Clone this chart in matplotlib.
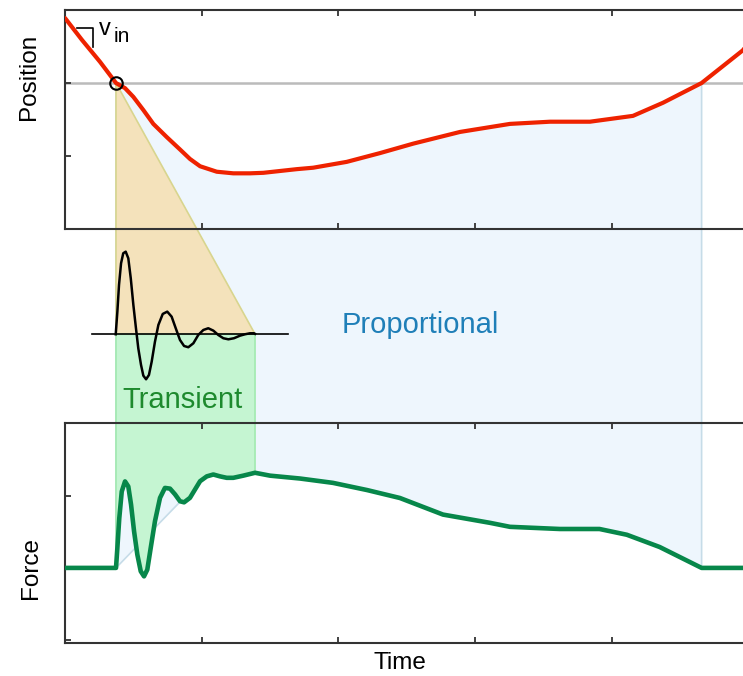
import numpy as np
import matplotlib
matplotlib.use('Agg')
import matplotlib.pyplot as plt
from matplotlib.patches import Polygon

plt.rcParams['font.family'] = 'Liberation Sans'

# Position trace (top panel), time in tick units
pos_t = [0.0, 0.124, 0.256, 0.373, 0.439, 0.500, 0.573, 0.646, 0.744, 0.841, 0.914,
         0.988, 1.110, 1.231, 1.353, 1.451, 1.695, 1.816, 2.061, 2.304, 2.548, 2.89,
         3.255, 3.548, 3.84, 4.155, 4.375, 4.657, 4.96, 5.0]
pos_v = [2.89, 2.59, 2.29, 2.0, 1.93, 1.81, 1.63, 1.44, 1.26, 1.09, 0.96,
         0.86, 0.785, 0.763, 0.763, 0.77, 0.82, 0.84, 0.92, 1.04, 1.17, 1.33,
         1.44, 1.47, 1.47, 1.55, 1.73, 2.0, 2.45, 2.56]

# Force trace (bottom panel)
force_t = [0.0, 0.373, 0.383, 0.397, 0.415, 0.439, 0.463, 0.483, 0.505, 0.529, 0.554,
           0.578, 0.602, 0.627, 0.658, 0.695, 0.731, 0.768, 0.805, 0.841, 0.871,
           0.914, 0.951, 0.988, 1.037, 1.085, 1.134, 1.183, 1.231, 1.304,
           1.39, 1.50, 1.72, 1.96, 2.21, 2.45, 2.765, 3.11, 3.255, 3.62, 3.91, 4.11,
           4.35, 4.657, 5.0]
force_v = [1.0, 1.0, 1.278, 1.69, 2.06, 2.20, 2.13, 1.88, 1.51, 1.185, 0.953,
           0.883, 0.976, 1.278, 1.647, 1.972, 2.11, 2.10, 2.02, 1.925, 1.91,
           1.972, 2.088, 2.203, 2.27, 2.296, 2.27, 2.25, 2.25, 2.28,
           2.32, 2.28, 2.24, 2.18, 2.08, 1.97, 1.74, 1.625, 1.57, 1.54, 1.54, 1.46,
           1.29, 1.0, 1.0]

# Transient sketch (middle), relative to its baseline
trans_t = [0.371, 0.383, 0.395, 0.410, 0.426, 0.444, 0.463, 0.481, 0.500, 0.519,
           0.536, 0.556, 0.573, 0.593, 0.614, 0.634, 0.658, 0.683, 0.715, 0.748,
           0.780, 0.810, 0.841, 0.871, 0.902, 0.939, 0.975, 1.012, 1.048, 1.085,
           1.121, 1.158, 1.195, 1.236, 1.280, 1.317, 1.353, 1.383, 1.390]
trans_v = [0.0, 0.274, 0.597, 0.860, 0.981, 1.0, 0.920, 0.678, 0.355, 0.073,
           -0.169, -0.371, -0.501, -0.545, -0.493, -0.332, -0.090, 0.113, 0.246, 0.274,
           0.213, 0.073, -0.069, -0.142, -0.157, -0.109, -0.008, 0.052, 0.073, 0.044,
           -0.008, -0.048, -0.061, -0.048, -0.017, 0.0, 0.012, 0.012, 0.005]
base_t = [0.195, 1.633]

t_start = 0.373     # v crosses v_in
t_trans_end = 1.39  # transient has died out
t_join = 0.988      # proportional force meets measured force
t_end = 4.657       # back to v_in

fig = plt.figure(figsize=(7.43, 6.76), dpi=100)
bg = fig.add_axes([0, 0, 1, 1], zorder=-1)
bg.set_xlim(0, 743)
bg.set_ylim(676, 0)
bg.axis('off')

ax_top = fig.add_axes([0.0875, 0.6612, 0.9199, 0.324], facecolor='none')
ax_mid = fig.add_axes([0.0875, 0.3743, 0.9199, 0.287], facecolor='none')
ax_bot = fig.add_axes([0.0875, 0.0488, 0.9199, 0.3254], facecolor='none')

ax_top.set_xlim(0, 5)
ax_top.set_ylim(0, 3)
ax_mid.set_xlim(0, 5)
ax_mid.set_ylim(-1.074, 1.275)
ax_bot.set_xlim(0, 5)
ax_bot.set_ylim(-0.042, 3.01)
ax_mid.axis('off')

for ax in (ax_top, ax_bot):
    ax.set_xticks(range(6))
    ax.tick_params(direction='in', top=True, bottom=True, left=True, right=False,
                   length=4, width=1.3, color='#333333',
                   labelbottom=False, labelleft=False)
    for s in ax.spines.values():
        s.set_linewidth(1.5)
        s.set_color('#333333')
ax_top.set_yticks([1, 2])
ax_bot.set_yticks([0, 1, 2])


def to_bg(ax, x, y):
    pts = np.column_stack([x, y])
    return bg.transData.inverted().transform(ax.transData.transform(pts))


pos_t_a = np.array(pos_t)
pos_v_a = np.array(pos_v)
force_t_a = np.array(force_t)
force_v_a = np.array(force_v)

# blue "proportional" region: from position trace down to force trace
m_top = (pos_t_a >= t_start) & (pos_t_a <= t_end)
m_bot = (force_t_a >= t_join) & (force_t_a <= t_end)
blue = np.vstack([
    to_bg(ax_top, pos_t_a[m_top], pos_v_a[m_top]),
    to_bg(ax_bot, force_t_a[m_bot][::-1], force_v_a[m_bot][::-1]),
    to_bg(ax_bot, [t_start], [1.0]),
])
bg.add_patch(Polygon(blue, closed=True, facecolor='#EEF6FD', edgecolor='#C6DCE8', lw=1.2))

# orange triangle
tri = np.vstack([
    to_bg(ax_top, [t_start], [2.0]),
    to_bg(ax_mid, [t_start, t_trans_end], [0.0, 0.0]),
])
bg.add_patch(Polygon(tri, closed=True, facecolor='#F4E2BB', edgecolor='#D8D58E', lw=1.2))

# green transient region
m_tr = (force_t_a >= t_start) & (force_t_a <= t_trans_end)
grn = np.vstack([
    to_bg(ax_mid, [t_start, t_trans_end], [0.0, 0.0]),
    to_bg(ax_bot, force_t_a[m_tr][::-1], force_v_a[m_tr][::-1]),
])
bg.add_patch(Polygon(grn, closed=True, facecolor='#C5F5D2', edgecolor='#A2EAB0', lw=1.2))

# top panel
ax_top.axhline(2, color='#BBBBBB', lw=1.8, zorder=1)
ax_top.plot(pos_t, pos_v, color='#EE2200', lw=3, zorder=3,
            solid_capstyle='round', solid_joinstyle='round')
ax_top.plot([t_start], [2.0], 'o', mfc='none', mec='black', ms=9, mew=1.5, zorder=4)
ax_top.plot([0.09, 0.203, 0.203], [2.75, 2.75, 2.50], color='black', lw=1.2)

# middle sketch
ax_mid.plot(base_t, [0, 0], color='black', lw=1.2)
ax_mid.plot(trans_t, trans_v, color='black', lw=1.8, solid_joinstyle='round')

# bottom panel
ax_bot.plot(force_t, force_v, color='#07874A', lw=3.3, zorder=3, solid_joinstyle='round')

# text
bg.text(99, 35, 'v', fontsize=17, va='baseline', ha='left')
bg.text(114, 41.5, 'in', fontsize=15, va='baseline', ha='left')
bg.text(420, 333, 'Proportional', fontsize=21, color='#1F7FB8', ha='center', va='baseline')
bg.text(182.5, 408, 'Transient', fontsize=21, color='#1E8A2E', ha='center', va='baseline')
bg.text(29, 77, 'Position', fontsize=17.5, rotation=90, ha='center', va='center')
bg.text(31, 568, 'Force', fontsize=17.5, rotation=90, ha='center', va='center')
bg.text(400, 663, 'Time', fontsize=17.5, ha='center', va='center')

fig.savefig('out.png', dpi=100)
